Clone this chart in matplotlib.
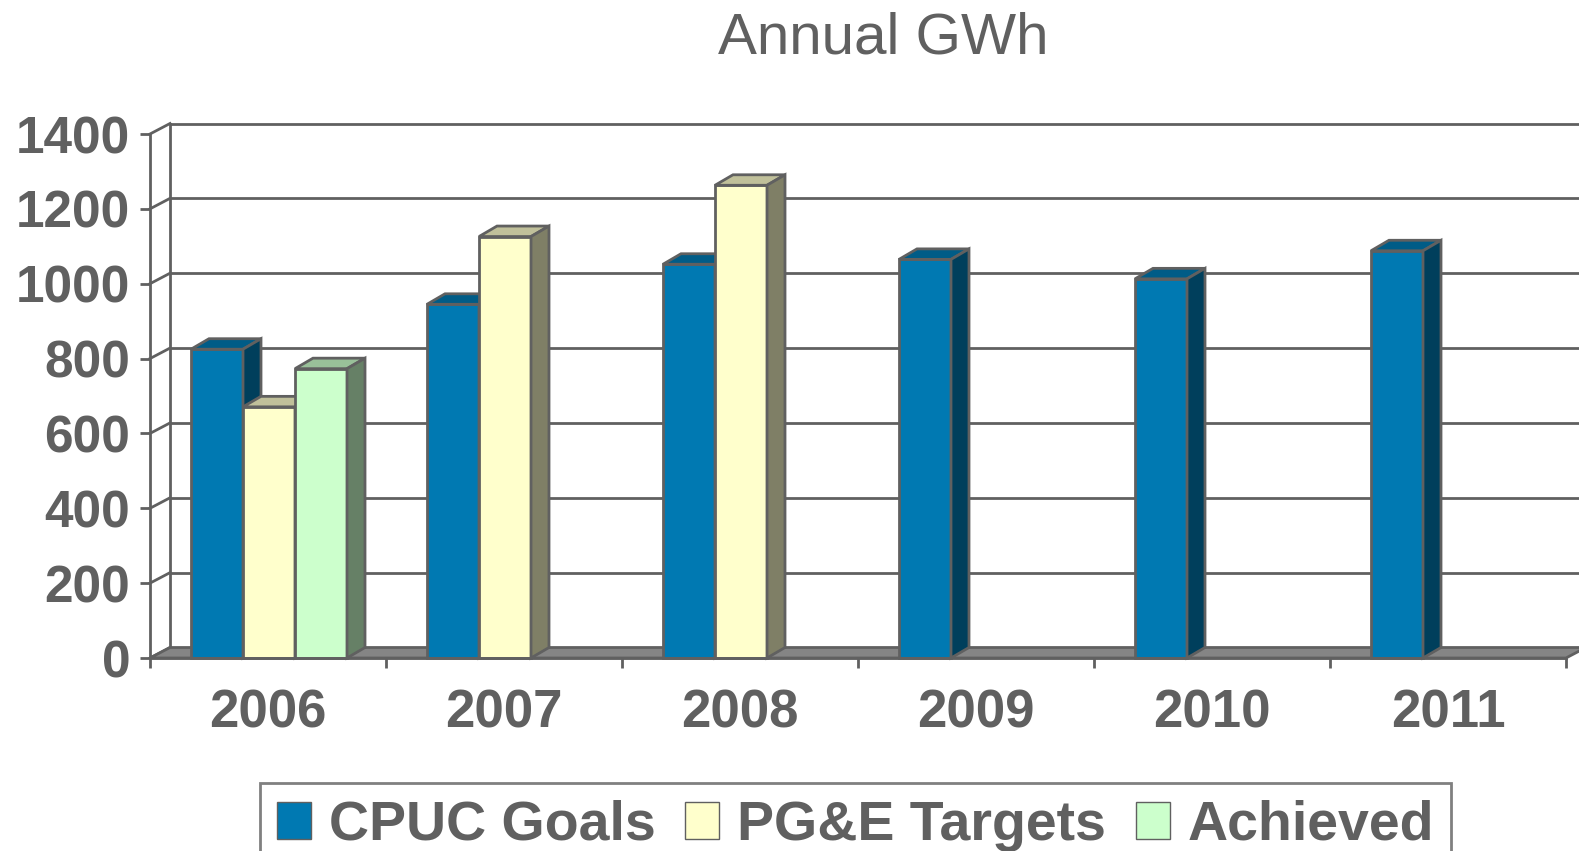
import numpy as np
import matplotlib.pyplot as plt
from matplotlib.patches import Polygon, Patch

plt.rcParams['font.family'] = ['Liberation Sans', 'DejaVu Sans']

# Data
years = ['2006', '2007', '2008', '2009', '2010', '2011']
cpuc_goals = [825, 945, 1052, 1065, 1013, 1088]
pge_targets = [671, 1126, 1263, np.nan, np.nan, np.nan]
achieved = [773, np.nan, np.nan, np.nan, np.nan, np.nan]
series_names = ['CPUC Goals', 'PG&E Targets', 'Achieved']
y_ticks = [0, 200, 400, 600, 800, 1000, 1200, 1400]

# front / top / side shades for the fake 3D columns
shades = [
    ('#0079B2', '#005C87', '#003F5C'),
    ('#FFFFCC', '#C0C09A', '#7F7F66'),
    ('#CCFFCC', '#99C099', '#668066'),
]
grey = '#606060'
lw = 2.0

W, H = 1579, 851
fig = plt.figure(figsize=(W / 100, H / 100), dpi=100)
ax = fig.add_axes([150 / W, 1 - 658 / H, 1416 / W, 524 / H])
ax.set_xlim(0, 6)
ax.set_ylim(0, 1400)
ax.patch.set_visible(False)

# pixel -> data unit conversion
ux = 6 / 1416
uy = 1400 / 524
wall_dx, wall_dy = 20 * ux, 10.5 * uy
bar_dx, bar_dy = 18 * ux, 10.5 * uy

# back wall gridlines and side wall
for v in y_ticks:
    ax.plot([wall_dx, 6 + wall_dx], [v + wall_dy, v + wall_dy], color=grey, lw=lw,
            clip_on=False, zorder=1, solid_capstyle='butt')
    ax.plot([0, wall_dx], [v, v + wall_dy], color=grey, lw=lw, clip_on=False, zorder=1)
ax.plot([wall_dx, wall_dx], [wall_dy, 1400 + wall_dy], color=grey, lw=lw,
        clip_on=False, zorder=1)

# floor
floor = Polygon([(0, 0), (6, 0), (6 + wall_dx, wall_dy), (wall_dx, wall_dy)],
                closed=True, facecolor='#858585', edgecolor=grey, lw=lw,
                clip_on=False, zorder=2)
ax.add_patch(floor)

# columns
w = 52 / 236
data = [cpuc_goals, pge_targets, achieved]
z = 3
for c in range(len(years)):
    for k, vals in enumerate(data):
        v = vals[c]
        if np.isnan(v):
            continue
        x0 = c + 0.5 - 1.5 * w + k * w + 1 * ux
        front, top, side = shades[k]
        ax.bar(x0, v, width=w, align='edge', color=front, edgecolor=grey,
               lw=lw, zorder=z, clip_on=False)
        ax.add_patch(Polygon([(x0, v), (x0 + w, v), (x0 + w + bar_dx, v + bar_dy),
                              (x0 + bar_dx, v + bar_dy)], closed=True,
                             facecolor=top, edgecolor=grey, lw=lw, zorder=z,
                             clip_on=False))
        ax.add_patch(Polygon([(x0 + w, 0), (x0 + w + bar_dx, bar_dy),
                              (x0 + w + bar_dx, v + bar_dy), (x0 + w, v)], closed=True,
                             facecolor=side, edgecolor=grey, lw=lw, zorder=z,
                             clip_on=False))
        z += 0.01

# axes styling
for s in ['top', 'right']:
    ax.spines[s].set_visible(False)
for s in ['left', 'bottom']:
    ax.spines[s].set_color(grey)
    ax.spines[s].set_linewidth(lw)
    ax.spines[s].set_zorder(10)

ax.set_yticks(y_ticks)
ax.set_yticklabels([str(t) for t in y_ticks])
ax.set_xticks(np.arange(7))
ax.set_xticklabels([])
ax.set_xticks(np.arange(6) + 0.5, minor=True)
ax.set_xticklabels(years, minor=True)
ax.tick_params(axis='y', direction='out', length=7.2, width=lw, color=grey,
               labelcolor=grey, labelsize=37, pad=7)
ax.tick_params(axis='x', which='major', direction='out', length=7.2, width=lw, color=grey)
ax.tick_params(axis='x', which='minor', length=0, labelcolor=grey, labelsize=38, pad=22)
for lab in ax.get_yticklabels() + ax.get_xticklabels(minor=True):
    lab.set_fontweight('bold')

fig.text(883 / W, 1 - 53 / H, 'Annual GWh', ha='center', va='baseline',
         fontsize=42, color=grey)

handles = [Patch(facecolor=shades[i][0], edgecolor=grey, lw=1) for i in range(3)]
leg = fig.legend(handles, series_names, loc='upper center',
                 bbox_to_anchor=(855.5 / W, 1 - 783 / H), ncol=3,
                 prop={'size': 40, 'weight': 'bold'}, labelcolor=grey,
                 frameon=True, fancybox=False, edgecolor=grey,
                 handlelength=0.61, handleheight=0.65, handletextpad=0.32,
                 columnspacing=0.54, borderpad=0.3, borderaxespad=0)
leg.get_frame().set_linewidth(lw)

fig.savefig('out.png', dpi=100)
